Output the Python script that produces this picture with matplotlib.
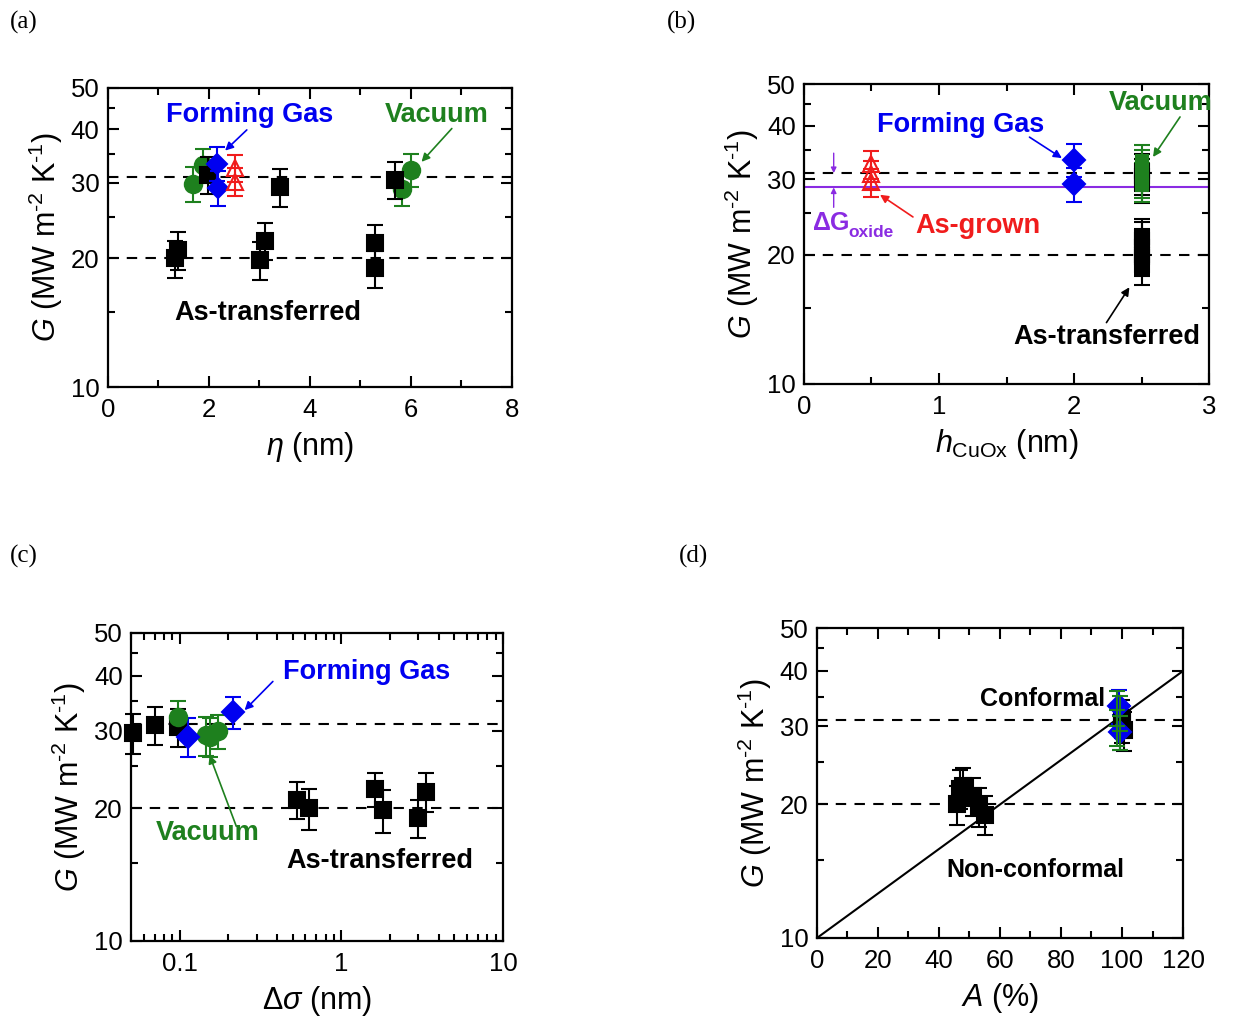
import matplotlib
matplotlib.use("Agg")
import matplotlib.pyplot as plt
from matplotlib.ticker import FixedLocator, NullFormatter, LogLocator

plt.rcParams['font.family'] = ['Liberation Sans', 'DejaVu Sans']
plt.rcParams['mathtext.fontset'] = 'custom'
plt.rcParams['mathtext.rm'] = 'Liberation Sans'
plt.rcParams['mathtext.it'] = 'Liberation Sans:italic'
plt.rcParams['mathtext.bf'] = 'Liberation Sans:bold'

BLUE = '#0000f0'
GREEN = '#1e801e'
RED = '#f01c1c'
PURPLE = '#8a2be2'

# --- shared G values (MW m^-2 K^-1) ---
g_trans = [20.0, 20.9, 19.8, 22.0, 18.95, 21.7]
g_trans_err = [2.0, 2.1, 2.0, 2.2, 1.9, 2.2]
g_trans_hi = [31.3, 29.4, 30.5]
g_trans_hi_err = [3.1, 3.0, 3.0]
g_vac = [29.9, 33.0, 32.2, 29.1]
g_vac_err = [2.8, 3.0, 2.9, 2.6]
g_fg = [33.3, 29.2]
g_fg_err = [3.0, 2.7]
g_grown = [32.5, 30.2]
g_grown_err = [2.4, 2.3]

# (a) eta (nm)
eta_trans = [1.33, 1.39, 3.01, 3.11, 5.29, 5.29]
g_trans_a = [20.0, 20.9, 19.8, 22.0, 18.95, 21.7]
eta_trans_hi = [1.99, 3.41, 5.68]
eta_vac = [1.69, 1.89, 6.01, 5.82]
eta_fg = [2.15, 2.18]
eta_grown = [2.51, 2.51]

# (b) h_CuOx (nm)
h_grown = [0.5, 0.5, 0.5]
g_grown_b = [32.5, 30.8, 29.5]
g_grown_b_err = [2.4, 2.3, 2.2]
h_fg = [2.0, 2.0]
h_vac = [2.5, 2.5, 2.5, 2.5]
h_trans = [2.5, 2.5, 2.5, 2.5, 2.5, 2.5]
h_trans_hi = [2.5, 2.5, 2.5]
g_oxide_line = 28.7

# (c) delta sigma (nm)
ds_trans = [0.533, 0.629, 1.62, 1.80, 2.96, 3.33]
g_trans_c = [20.9, 20.0, 22.1, 19.8, 19.0, 21.8]
ds_trans_hi = [0.0515, 0.070, 0.098]
g_trans_hi_c = [29.6, 30.9, 30.6]
ds_vac = [0.098, 0.145, 0.153, 0.172]
g_vac_c = [32.3, 29.3, 29.1, 29.9]
ds_fg = [0.113, 0.213]
g_fg_c = [29.1, 33.0]

# (d) A (%)
a_trans = [46, 51, 53, 48, 55, 47]
a_trans_hi = [100, 100.5, 100]
a_vac = [98.5, 98.5, 99.5, 99.5]
a_fg = [99, 99.5]
a_line = [0, 120]
g_line = [10, 40]

g_upper = 31
g_lower = 20

TICK_FS = 18.5
LABEL_FS = 22
NOTE_FS = 19.5


def style_axes(ax):
    ax.set_yscale('log')
    ax.set_ylim(10, 50)
    ax.yaxis.set_major_locator(FixedLocator([10, 20, 30, 40, 50]))
    ax.yaxis.set_minor_locator(FixedLocator([15, 25, 35, 45]))
    ax.set_yticklabels(['10', '20', '30', '40', '50'])
    ax.yaxis.set_minor_formatter(NullFormatter())
    ax.tick_params(which='both', direction='in', top=True, right=True,
                   labelsize=TICK_FS, width=1.5)
    ax.tick_params(which='major', length=8)
    ax.tick_params(which='minor', length=5)
    ax.tick_params(axis='x', which='major', pad=8)
    ax.tick_params(axis='y', which='major', pad=6)
    for s in ax.spines.values():
        s.set_linewidth(1.6)
    ax.set_ylabel(r'$G$ (MW m$^{\text{-}2}$ K$^{\text{-}1}$)', fontsize=LABEL_FS,
                  labelpad=4)
    ax.axhline(g_upper, color='black', ls=(0, (5, 4)), lw=1.5, zorder=1)
    ax.axhline(g_lower, color='black', ls=(0, (5, 4)), lw=1.5, zorder=1)


def eb(ax, x, y, yerr, color, marker, ms=11.5, mfc=None, z=3):
    ax.errorbar(x, y, yerr=yerr, fmt=marker, color=color, ms=ms,
                mfc=mfc if mfc else color, mec=color, mew=1.5,
                ecolor=color, elinewidth=1.5, capsize=6, capthick=1.5,
                zorder=z, clip_on=False)


def arrow(ax, xy, xytext, color):
    ax.annotate('', xy=xy, xytext=xytext,
                arrowprops=dict(arrowstyle='-|>', color=color, lw=1.2,
                                mutation_scale=12, shrinkA=0, shrinkB=0))


def label(ax, x, y, text, color, fs=NOTE_FS):
    ax.text(x, y, text, color=color, fontsize=fs, fontweight='bold',
            ha='center', va='center')


fig = plt.figure(figsize=(12.35, 10.22), dpi=100)
ax_a = fig.add_axes([0.0874, 0.6213, 0.3271, 0.2926])
ax_b = fig.add_axes([0.651, 0.6243, 0.328, 0.2935])
ax_c = fig.add_axes([0.1061, 0.0793, 0.3012, 0.3014])
ax_d = fig.add_axes([0.6615, 0.0822, 0.2964, 0.3033])

# ---------- (a) ----------
ax = ax_a
style_axes(ax)
ax.set_xlim(0, 8)
ax.xaxis.set_major_locator(FixedLocator([0, 2, 4, 6, 8]))
ax.xaxis.set_minor_locator(FixedLocator([1, 3, 5, 7]))
eb(ax, eta_trans, g_trans_a, g_trans_err, 'black', 's')
eb(ax, eta_vac, g_vac, g_vac_err, GREEN, 'o', ms=12.5)
eb(ax, eta_trans_hi, g_trans_hi, g_trans_hi_err, 'black', 's', z=4)
eb(ax, eta_fg, g_fg, g_fg_err, BLUE, 'D', ms=10.5, z=5)
eb(ax, eta_grown, g_grown, g_grown_err, RED, '^', ms=11.5, mfc='none', z=5)
label(ax, 2.81, 43.2, 'Forming Gas', BLUE)
arrow(ax, (2.32, 35.7), (2.75, 39.9), BLUE)
label(ax, 6.51, 43.2, 'Vacuum', GREEN)
arrow(ax, (6.21, 33.6), (6.81, 40.2), GREEN)
label(ax, 3.17, 14.9, 'As-transferred', 'black')
ax.set_xlabel(r'$\eta$ (nm)', fontsize=LABEL_FS, labelpad=6)

# ---------- (b) ----------
ax = ax_b
style_axes(ax)
ax.set_xlim(0, 3)
ax.xaxis.set_major_locator(FixedLocator([0, 1, 2, 3]))
ax.xaxis.set_minor_locator(FixedLocator([0.5, 1.5, 2.5]))
ax.axhline(g_oxide_line, color=PURPLE, lw=1.5, zorder=1)
eb(ax, h_trans, g_trans, g_trans_err, 'black', 's', ms=10)
eb(ax, h_trans_hi, g_trans_hi, g_trans_hi_err, 'black', 's', ms=10)
eb(ax, h_vac, g_vac, g_vac_err, GREEN, 's', ms=9)
eb(ax, h_fg, g_fg, g_fg_err, BLUE, 'D', ms=11.5)
eb(ax, h_grown, g_grown_b, g_grown_b_err, RED, '^', ms=11.5, mfc='none')
ax.annotate('', xy=(0.22, g_upper), xytext=(0.22, 34.5),
            arrowprops=dict(arrowstyle='-|>', color=PURPLE, lw=1.0,
                            mutation_scale=8, shrinkA=0, shrinkB=0))
ax.annotate('', xy=(0.22, g_oxide_line), xytext=(0.22, 25.8),
            arrowprops=dict(arrowstyle='-|>', color=PURPLE, lw=1.0,
                            mutation_scale=8, shrinkA=0, shrinkB=0))
ax.text(0.06, 23.7, r'$\mathbf{\Delta G}$', color=PURPLE, fontsize=18,
        ha='left', va='center')
ax.text(0.33, 22.5, 'oxide', color=PURPLE, fontsize=12.5, fontweight='bold',
        ha='left', va='center')
label(ax, 1.29, 23.4, 'As-grown', RED)
arrow(ax, (0.563, 27.6), (0.807, 24.5), RED)
label(ax, 1.16, 40.1, 'Forming Gas', BLUE)
arrow(ax, (1.91, 33.6), (1.67, 37.6), BLUE)
label(ax, 2.64, 45.2, 'Vacuum', GREEN)
arrow(ax, (2.585, 33.8), (2.785, 41.9), GREEN)
label(ax, 2.24, 12.9, 'As-transferred', 'black')
arrow(ax, (2.41, 16.8), (2.24, 13.9), 'black')
ax.set_xlabel(r'$h_{\mathrm{CuOx}}$ (nm)', fontsize=LABEL_FS, labelpad=6)

# ---------- (c) ----------
ax = ax_c
style_axes(ax)
ax.set_xscale('log')
ax.set_xlim(0.05, 10)
ax.xaxis.set_major_locator(FixedLocator([0.1, 1, 10]))
ax.xaxis.set_minor_locator(LogLocator(base=10, subs=range(2, 10)))
ax.xaxis.set_minor_formatter(NullFormatter())
ax.set_xticklabels(['0.1', '1', '10'])
ax.tick_params(which='both', direction='in', top=True, right=True,
               labelsize=TICK_FS, width=1.5)
eb(ax, ds_trans, g_trans_c, g_trans_err, 'black', 's')
eb(ax, ds_trans_hi, g_trans_hi_c, g_trans_hi_err, 'black', 's')
eb(ax, ds_vac, g_vac_c, g_vac_err, GREEN, 'o', ms=12.5)
eb(ax, ds_fg, g_fg_c, g_fg_err, BLUE, 'D', ms=11.5)
label(ax, 1.43, 40.8, 'Forming Gas', BLUE)
arrow(ax, (0.252, 33.4), (0.377, 38.8), BLUE)
label(ax, 0.149, 17.6, 'Vacuum', GREEN)
arrow(ax, (0.153, 26.4), (0.224, 18.2), GREEN)
label(ax, 1.72, 15.2, 'As-transferred', 'black')
ax.set_xlabel(r'$\mathit{\Delta\sigma}$ (nm)', fontsize=LABEL_FS, labelpad=6)

# ---------- (d) ----------
ax = ax_d
style_axes(ax)
ax.set_xlim(0, 120)
ax.xaxis.set_major_locator(FixedLocator([0, 20, 40, 60, 80, 100, 120]))
ax.xaxis.set_minor_locator(FixedLocator([10, 30, 50, 70, 90, 110]))
ax.plot(a_line, g_line, color='black', lw=1.5, zorder=2)
eb(ax, a_trans, g_trans, g_trans_err, 'black', 's')
eb(ax, a_trans_hi, g_trans_hi, g_trans_hi_err, 'black', 's')
eb(ax, a_fg, g_fg, g_fg_err, BLUE, 'D', ms=11.5)
eb(ax, a_vac, g_vac, g_vac_err, GREEN, '_', ms=1, z=6)
label(ax, 73.8, 34.6, 'Conformal', 'black', fs=18)
label(ax, 71.5, 14.2, 'Non-conformal', 'black', fs=18)
ax.set_xlabel('$A$ (%)', fontsize=LABEL_FS, labelpad=6)

for lbl, x, y in [('(a)', 0.008, 0.978), ('(b)', 0.540, 0.978),
                  ('(c)', 0.008, 0.456), ('(d)', 0.550, 0.456)]:
    fig.text(x, y, lbl, fontsize=18, family='Liberation Serif',
             ha='left', va='center')

fig.savefig('out.png', dpi=100)
